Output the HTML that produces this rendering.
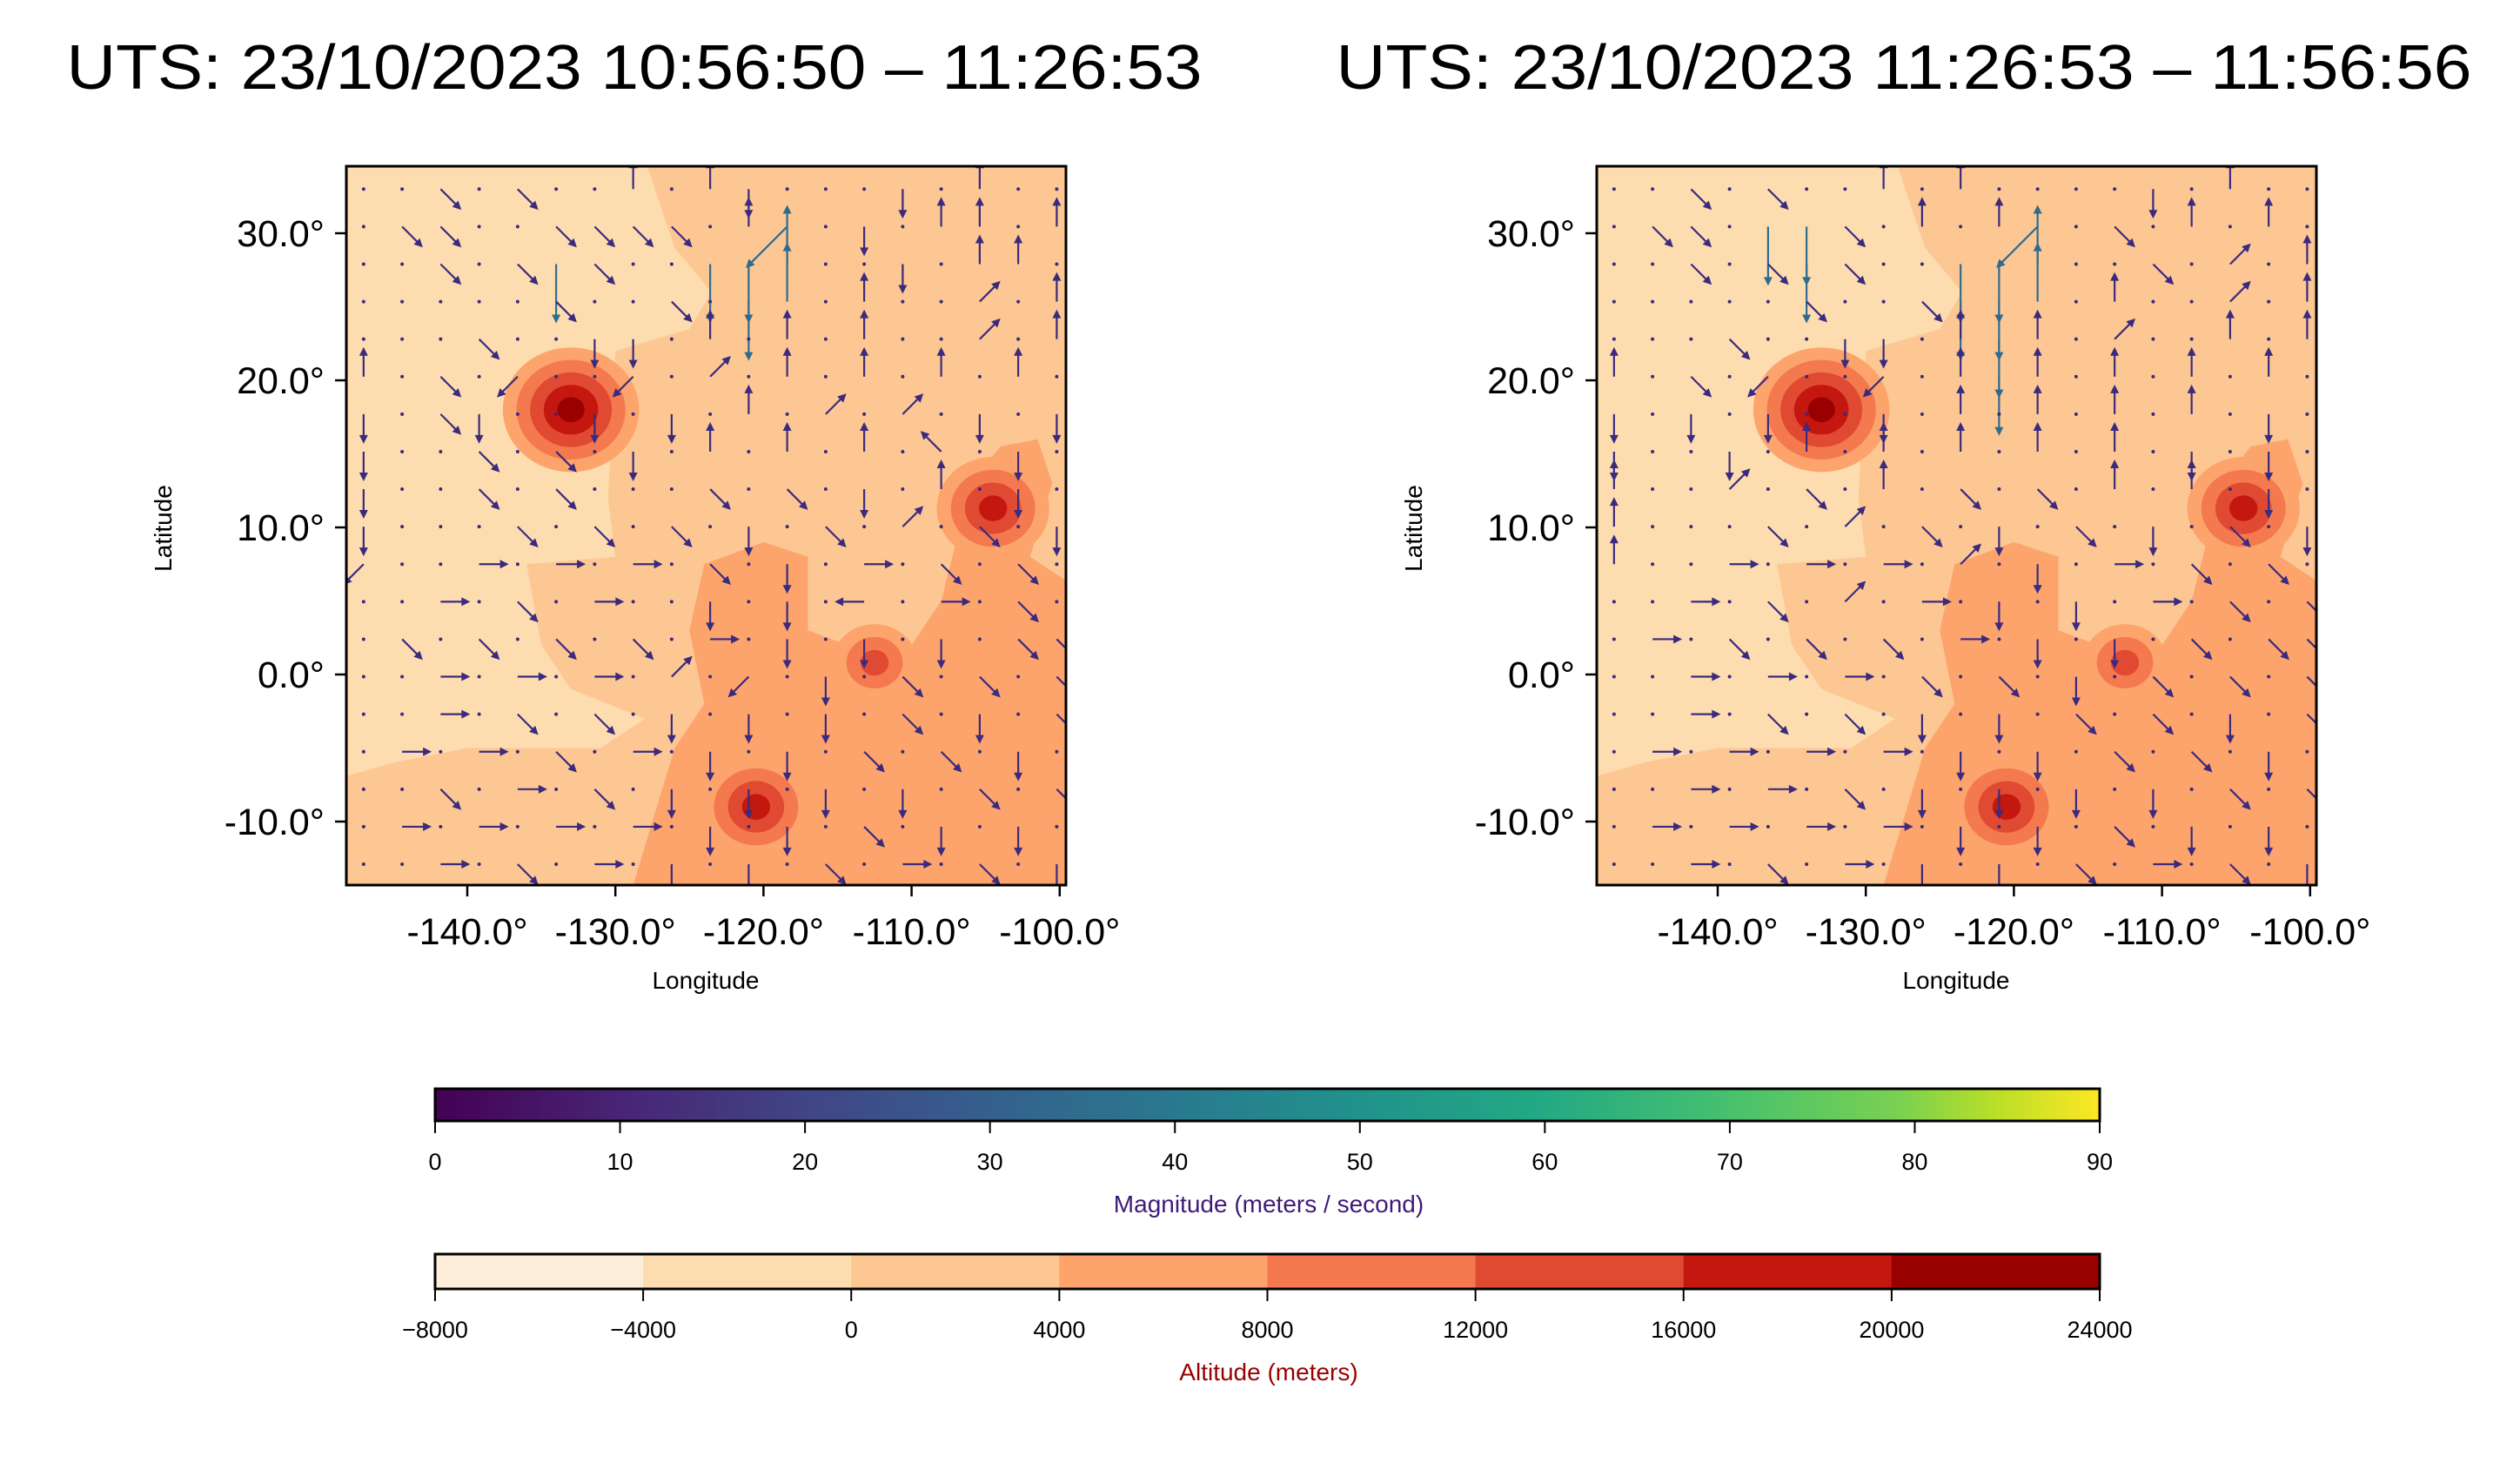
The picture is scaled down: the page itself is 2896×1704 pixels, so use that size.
<!DOCTYPE html>
<html><head><meta charset="utf-8"><title>Wind and altitude maps</title>
<style>html,body{margin:0;padding:0;background:#fff}svg{display:block}text{font-family:"Liberation Sans",sans-serif}</style></head>
<body>
<svg id="fig" width="2896" height="1704" viewBox="0 0 2896 1704" xmlns="http://www.w3.org/2000/svg">
<defs>
<linearGradient id="viridis" x1="0" x2="1" y1="0" y2="0">
<stop offset="0" stop-color="#440154"/><stop offset="0.11" stop-color="#482475"/><stop offset="0.22" stop-color="#414487"/><stop offset="0.33" stop-color="#355f8d"/><stop offset="0.44" stop-color="#2a788e"/><stop offset="0.55" stop-color="#21918c"/><stop offset="0.66" stop-color="#22a884"/><stop offset="0.77" stop-color="#44bf70"/><stop offset="0.88" stop-color="#7ad151"/><stop offset="0.94" stop-color="#bddf26"/><stop offset="1" stop-color="#fde725"/>
</linearGradient>
<clipPath id="clipL"><rect x="398" y="191" width="827" height="826"/></clipPath>
<clipPath id="clipR"><rect x="1835" y="191" width="827" height="826"/></clipPath>
</defs>
<g id="root"></g>
</svg>
<script>
const lonTicks = [-140, -130, -120, -110, -100];
const latTicks = [30, 20, 10, 0, -10];
const titles = ["UTS: 23/10/2023 10:56:50 – 11:26:53", "UTS: 23/10/2023 11:26:53 – 11:56:56"];
const magTicks = [0, 10, 20, 30, 40, 50, 60, 70, 80, 90];
const altLevels = [-8000, -4000, 0, 4000, 8000, 12000, 16000, 20000, 24000];
const altColors = ["#fdeed9", "#fdddb0", "#fdc793", "#fca46c", "#f4794f", "#e04a33", "#c3170f", "#990000"];
// volcano centers [lon, lat, peak level index], per panel
const volcLeft = [[-133, 18, 7], [-104.5, 11.3, 6], [-112.5, 0.8, 5], [-120.5, -9, 6]];
const volcRight = [[-133, 18, 7], [-104.5, 11.3, 6], [-112.5, 0.8, 5], [-120.5, -9, 6]];
// low region outline (lon,lat)
const lowRegion = [[-148.5,35],[-128,35],[-126,29],[-123.5,26],[-125,23.5],[-130,22],[-130.5,12],[-130,8],[-136,7.5],[-135,2],[-133,-1],[-128,-3],[-131,-5],[-140,-5],[-145,-6],[-148.5,-7]];
const midRegion = [[-129,-15],[-126,-5],[-124,-2],[-125,3],[-124,7.5],[-120,9],[-117,8],[-117,3],[-113,1.5],[-110,2],[-108,5],[-107,9],[-106,13],[-104,15.5],[-101.5,16],[-100.5,13],[-102,8],[-99,6],[-99,-15]];
// arrow field: lon from -147 step 2.6, lat from 33 step -2.55; chars 0-7 direction (E,NE,N,NW,W,SW,S,SE), A-H long, '.' tiny
const windLeft = [
"..7.7..2.26...6.2..",
".77..7777.2F.6.22.2",
"..7.7G7..GGC..6.22.",
".....7..7.GC.2..1.2",
"...7..66.2.2.2..1.2",
"2.7.5..5.1.2.2.2.2.",
"6.76..6.6.2.1.1.6.6",
"6..7.7.6.2.2.2.3.6.",
"6..7.7...7.7.6.2.6.",
"6...7.7.7.6.7.1.7.6",
"5..0.0.0.7.6.0.7.7.",
"..0.7.0..6.6.4.0.7.",
".7.7.7.7.0.6.6.6.77",
"..0.0.0.1.5.6.7.7.7",
"..0.7.7.6.6.6.7.6.7",
".0.0.7.0.6.6.7.7.6.",
"..7.0.7.6.6.6.6.7.7",
".0.0.0.0.6.6.7.6.6.",
"..0.7.0.6.6.7.0.7.6"];
const windRight = [
"..7.7..2.2....6.2..",
".77.GG7.2.2F.7.2.2.",
"..7.7G7..GGC..7.1.2",
".....7..7GGC.2..1.2",
"...7..66.2G2.1..2.2",
"2.7.5..5.2G2.2.2.2.",
"6.6.6..6.2.2.2.2.6.",
"6..6.2.2.2.2.2.6.6.",
"2..1.7.2.7.7.2.2.6.",
"2...7.1.7.6.7.6.7.6",
"2..0.0.0.1.6.0.7.7.",
"..0.7.1.0.6.6.0.7.7",
".0.7.7.7.0.6.6.7.77",
"..0.0.0.7.7.6.7.7.7",
"..0.7.7.6.6.7.7.6.7",
".0.0.0.0.6.6.7.7.6.",
"..0.0.7.6.6.6.6.7.7",
".0.0.0.0.6.6.7.6.6.",
"..0.7.0.6.6.7.0.7.6"];

const NS = "http://www.w3.org/2000/svg";
const root = document.getElementById('root');
function el(tag, attrs, parent) {
  const e = document.createElementNS(NS, tag);
  for (const k in attrs) e.setAttribute(k, attrs[k]);
  (parent || root).appendChild(e);
  return e;
}
const X0 = 537, PXDEG_X = 17.02, Y0 = 268, PXDEG_Y = 16.9;
function makePanel(dx, title, volcs, wind, clipId, idx, titleX) {
  const g = el('g', {});
  
  
  const xs = lon => X0 + dx + (lon + 140) * PXDEG_X;
  const ys = lat => Y0 + (30 - lat) * PXDEG_Y;
  const t = el('text', {x: titleX, y: 102, 'font-size': 72, 'text-anchor': 'middle', textLength: 1305, lengthAdjust: 'spacingAndGlyphs', fill: '#000'}, g);
  t.textContent = title;
  
  
  const m = el('g', {'clip-path': 'url(#' + clipId + ')'}, g);
  
  
  el('rect', {x: 398 + dx, y: 191, width: 827, height: 826, fill: altColors[2]}, m);
  const pts = r => r.map(p => xs(p[0]).toFixed(1) + ',' + ys(p[1]).toFixed(1)).join(' ');
  const low = el('polygon', {points: pts(lowRegion), fill: altColors[1]}, m);
  
  
  const mid = el('polygon', {points: pts(midRegion), fill: altColors[3]}, m);
  
  
  volcs.forEach((v, i) => {
    for (let lvl = 3; lvl <= v[2]; lvl++) {
      const r = (v[2] - lvl + 1) * (v[2] === 7 ? 0.92 : 0.95);
      const c = el('ellipse', {cx: xs(v[0]), cy: ys(v[1]), rx: r * PXDEG_X, ry: r * 0.92 * PXDEG_Y, fill: altColors[lvl]}, m);
      
      
    }
  });
  const dirs = [[1,0],[0.7,-0.7],[0,-1],[-0.7,-0.7],[-1,0],[-0.7,0.7],[0,1],[0.7,0.7]];
  wind.forEach((row, r) => {
    for (let c = 0; c < row.length; c++) {
      const ch = row[c];
      const lon = -147 + c * 2.6, lat = 33 - r * 2.55;
      const x = xs(lon), y = ys(lat);
      if (ch === '.') {
        const d = el('circle', {cx: x, cy: y, r: 2, fill: '#3b2a7e'}, m);
        
        
        continue;
      }
      let k = ch.charCodeAt(0), len = 28, col = '#3b2a7e';
      if (k >= 65) { k -= 65; len = 62; col = '#2f6b8e'; } else k -= 48;
      const [ux, uy] = dirs[k];
      const x2 = x + ux * len, y2 = y + uy * len;
      const a = el('g', {}, m);
      
      
      el('line', {x1: x, y1: y, x2: x2, y2: y2, stroke: col, 'stroke-width': 2.2}, a);
      const px = -uy, py = ux;
      el('polygon', {points: `${x2+ux*6},${y2+uy*6} ${x2-ux*4+px*5},${y2-uy*4+py*5} ${x2-ux*4-px*5},${y2-uy*4-py*5}`, fill: col}, a);
    }
  });
  const fr = el('rect', {x: 398 + dx, y: 191, width: 827, height: 826, fill: 'none', stroke: '#000', 'stroke-width': 3}, g);
  
  
  lonTicks.forEach(v => {
    const x = xs(v);
    el('line', {x1: x, y1: 1017, x2: x, y2: 1030, stroke: '#000', 'stroke-width': 2.5}, g);
    const tl = el('text', {x: x, y: 1085, 'font-size': 43, 'text-anchor': 'middle', fill: '#000'}, g);
    tl.textContent = v.toFixed(1) + '°';
    
    
  });
  latTicks.forEach(v => {
    const y = ys(v);
    el('line', {x1: 385 + dx, y1: y, x2: 398 + dx, y2: y, stroke: '#000', 'stroke-width': 2.5}, g);
    const tl = el('text', {x: 373 + dx, y: y + 15, 'font-size': 43, 'text-anchor': 'end', fill: '#000'}, g);
    tl.textContent = v.toFixed(1) + '°';
    
    
  });
  const xl = el('text', {x: 811 + dx, y: 1136, 'font-size': 28, 'text-anchor': 'middle', fill: '#000'}, g);
  xl.textContent = 'Longitude';
  
  
  const yl = el('text', {x: 0, y: 0, 'font-size': 28, 'text-anchor': 'middle', fill: '#000', transform: `translate(${197 + dx},607) rotate(-90)`}, g);
  yl.textContent = 'Latitude';
  
  
}
makePanel(0, titles[0], volcLeft, windLeft, 'clipL', 'left', 729);
makePanel(1437, titles[1], volcRight, windRight, 'clipR', 'right', 2188);

// colorbars
const CB_X0 = 500, CB_X1 = 2413;
const cb1 = el('g', {});


el('rect', {x: CB_X0, y: 1251, width: CB_X1 - CB_X0, height: 37, fill: 'url(#viridis)', stroke: '#000', 'stroke-width': 3}, cb1);
magTicks.forEach(v => {
  const x = CB_X0 + (v - magTicks[0]) / (magTicks[magTicks.length - 1] - magTicks[0]) * (CB_X1 - CB_X0);
  el('line', {x1: x, y1: 1288, x2: x, y2: 1302, stroke: '#000', 'stroke-width': 2}, cb1);
  const t = el('text', {x: x, y: 1344, 'font-size': 27, 'text-anchor': 'middle', fill: '#000'}, cb1);
  t.textContent = v;
  
  
});
const mt = el('text', {x: 1458, y: 1393, 'font-size': 28, 'text-anchor': 'middle', fill: '#3f1a78'}, cb1);
mt.textContent = 'Magnitude (meters / second)';



const cb2 = el('g', {});


const aMin = altLevels[0], aMax = altLevels[altLevels.length - 1];
const ax = v => CB_X0 + (v - aMin) / (aMax - aMin) * (CB_X1 - CB_X0);
altColors.forEach((c, i) => {
  const r = el('rect', {x: ax(altLevels[i]), y: 1441, width: ax(altLevels[i + 1]) - ax(altLevels[i]) + 0.5, height: 40, fill: c}, cb2);
  
  
});
el('rect', {x: CB_X0, y: 1441, width: CB_X1 - CB_X0, height: 40, fill: 'none', stroke: '#000', 'stroke-width': 3}, cb2);
altLevels.forEach(v => {
  const x = ax(v);
  el('line', {x1: x, y1: 1481, x2: x, y2: 1495, stroke: '#000', 'stroke-width': 2}, cb2);
  const t = el('text', {x: x, y: 1537, 'font-size': 27, 'text-anchor': 'middle', fill: '#000'}, cb2);
  t.textContent = v < 0 ? '−' + Math.abs(v) : String(v);
  
  
});
const at = el('text', {x: 1458, y: 1586, 'font-size': 28, 'text-anchor': 'middle', fill: '#990000'}, cb2);
at.textContent = 'Altitude (meters)';


</script>
</body></html>
